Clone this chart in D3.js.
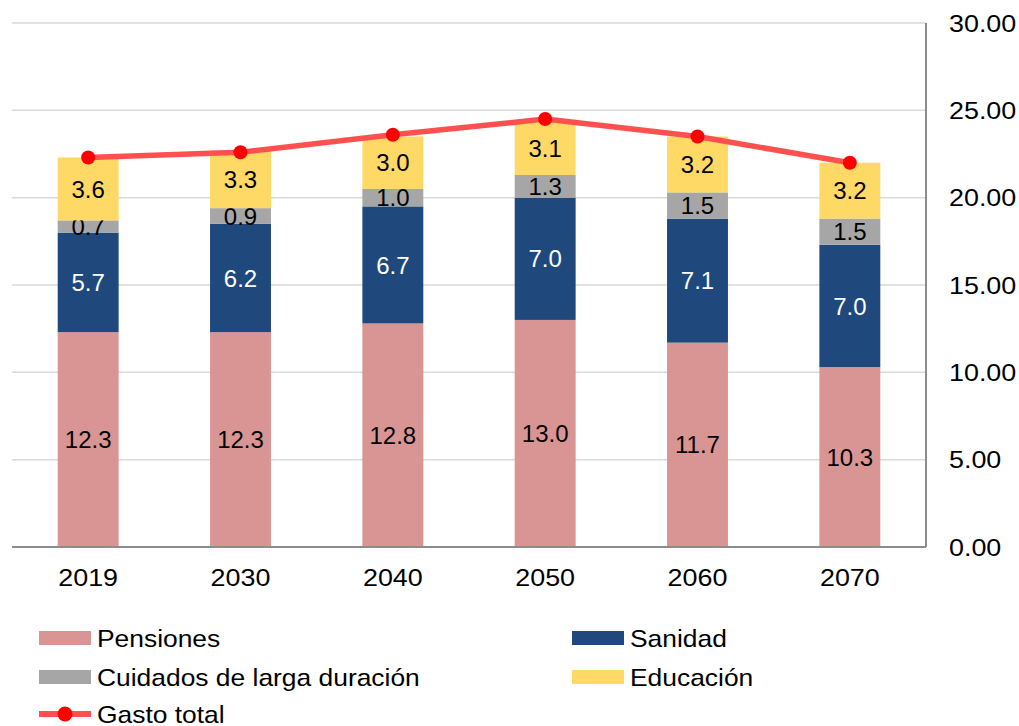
<!DOCTYPE html>
<meta charset="utf-8">
<script src="https://d3js.org/d3.v7.min.js"></script>
<style>
  body { margin: 0; background: #fff; }
  text { font-family: "Liberation Sans", Arial, sans-serif; }
</style>
<div id="chart"></div>
<script>

// years and the four spending components (% of GDP)
const years = ["2019", "2030", "2040", "2050", "2060", "2070"];
const pensiones = [12.3, 12.3, 12.8, 13.0, 11.7, 10.3];
const sanidad = [5.7, 6.2, 6.7, 7.0, 7.1, 7.0];
const cuidados = [0.7, 0.9, 1.0, 1.3, 1.5, 1.5];
const educacion = [3.6, 3.3, 3.0, 3.1, 3.2, 3.2];
const gastoTotal = [22.3, 22.6, 23.6, 24.5, 23.5, 22.0];
const yTicks = [0, 5, 10, 15, 20, 25, 30];

const series = [
    {name: "Pensiones", values: pensiones, color: "#d99594", text: "#000"},
    {name: "Sanidad", values: sanidad, color: "#1f497d", text: "#fff"},
    {name: "Cuidados de larga duración", values: cuidados, color: "#a6a6a6", text: "#000"},
    {name: "Educación", values: educacion, color: "#ffd966", text: "#000"}
];

const width = 1019, height = 726;
const plot = {left: 12, right: 926, top: 23, bottom: 547};
const fontSize = 24;
const stretch = 1.12; // the original text is drawn a bit wider than Arial
const legendStretch = 1.1;

const svg = d3.select("#chart").append("svg")
    .attr("width", width)
    .attr("height", height);

const x = d3.scaleBand()
    .domain(years)
    .range([plot.left, plot.right])
    .paddingInner(0.6)
    .paddingOuter(0.3);

const y = d3.scaleLinear()
    .domain([0, 30])
    .range([plot.bottom, plot.top]);

// gridlines
svg.append("g")
    .selectAll("line")
    .data(yTicks.filter(d => d > 0))
    .join("line")
    .attr("x1", plot.left)
    .attr("x2", plot.right)
    .attr("y1", d => y(d))
    .attr("y2", d => y(d))
    .attr("stroke", "#d9d9d9")
    .attr("stroke-width", 1.5);

// stacked bars
const stackData = years.map((yr, i) => {
    const row = {year: yr};
    series.forEach(s => row[s.name] = s.values[i]);
    return row;
});
const stacked = d3.stack().keys(series.map(s => s.name))(stackData);

stacked.forEach((layer, k) => {
    const s = series[k];
    const g = svg.append("g");
    g.selectAll("rect")
        .data(layer)
        .join("rect")
        .attr("x", d => x(d.data.year))
        .attr("width", x.bandwidth())
        .attr("y", d => y(d[1]))
        .attr("height", d => y(d[0]) - y(d[1]))
        .attr("fill", s.color);
    g.selectAll("text")
        .data(layer)
        .join("text")
        .attr("x", d => x(d.data.year) + x.bandwidth() / 2)
        .attr("y", d => y((d[0] + d[1]) / 2))
        .attr("dy", "0.36em")
        .attr("text-anchor", "middle")
        .attr("font-size", fontSize)
        .attr("fill", s.text)
        .text(d => (d[1] - d[0]).toFixed(1));
});

// axes lines (bottom and right)
svg.append("line")
    .attr("x1", plot.left).attr("x2", plot.right)
    .attr("y1", y(0)).attr("y2", y(0))
    .attr("stroke", "#8c8c8c").attr("stroke-width", 2);
svg.append("line")
    .attr("x1", plot.right).attr("x2", plot.right)
    .attr("y1", y(30)).attr("y2", y(0))
    .attr("stroke", "#8c8c8c").attr("stroke-width", 2);

// right axis labels
svg.append("g")
    .selectAll("text")
    .data(yTicks)
    .join("text")
    .attr("transform", d => `translate(949,${y(d)}) scale(${stretch},1)`)
    .attr("dy", "0.36em")
    .attr("font-size", fontSize)
    .attr("fill", "#000")
    .text(d => d3.format(".2f")(d));

// bottom axis labels
svg.append("g")
    .selectAll("text")
    .data(years)
    .join("text")
    .attr("transform", d => `translate(${x(d) + x.bandwidth() / 2},577) scale(${stretch},1)`)
    .attr("dy", "0.36em")
    .attr("text-anchor", "middle")
    .attr("font-size", fontSize)
    .attr("fill", "#000")
    .text(d => d);

// total line
const line = d3.line()
    .x((d, i) => x(years[i]) + x.bandwidth() / 2)
    .y(d => y(d));

svg.append("path")
    .datum(gastoTotal)
    .attr("d", line)
    .attr("fill", "none")
    .attr("stroke", "#ff5050")
    .attr("stroke-width", 5.5)
    .attr("stroke-linejoin", "round");

svg.append("g")
    .selectAll("circle")
    .data(gastoTotal)
    .join("circle")
    .attr("cx", (d, i) => x(years[i]) + x.bandwidth() / 2)
    .attr("cy", d => y(d))
    .attr("r", 7)
    .attr("fill", "#ff0000");

// legend
const legendItems = [
    {name: "Pensiones", color: "#d99594", col: 0, row: 0},
    {name: "Sanidad", color: "#1f497d", col: 1, row: 0},
    {name: "Cuidados de larga duración", color: "#a6a6a6", col: 0, row: 1},
    {name: "Educación", color: "#ffd966", col: 1, row: 1},
    {name: "Gasto total", color: null, col: 0, row: 2}
];
const legendX = [39, 572], legendY = [638, 677, 714];

const legend = svg.append("g")
    .selectAll("g")
    .data(legendItems)
    .join("g")
    .attr("transform", d => `translate(${legendX[d.col]},${legendY[d.row]})`);

legend.filter(d => d.color)
    .append("rect")
    .attr("x", 0).attr("y", -7)
    .attr("width", 52).attr("height", 14)
    .attr("fill", d => d.color);

const lineItem = legend.filter(d => !d.color);
lineItem.append("line")
    .attr("x1", 0).attr("x2", 52)
    .attr("y1", 0).attr("y2", 0)
    .attr("stroke", "#ff5050")
    .attr("stroke-width", 6);
lineItem.append("circle")
    .attr("cx", 26).attr("cy", 0).attr("r", 7.5)
    .attr("fill", "#ff0000");

legend.append("text")
    .attr("transform", `translate(58,0) scale(${legendStretch},1)`)
    .attr("dy", "0.36em")
    .attr("font-size", fontSize)
    .attr("fill", "#000")
    .text(d => d.name);

</script>
